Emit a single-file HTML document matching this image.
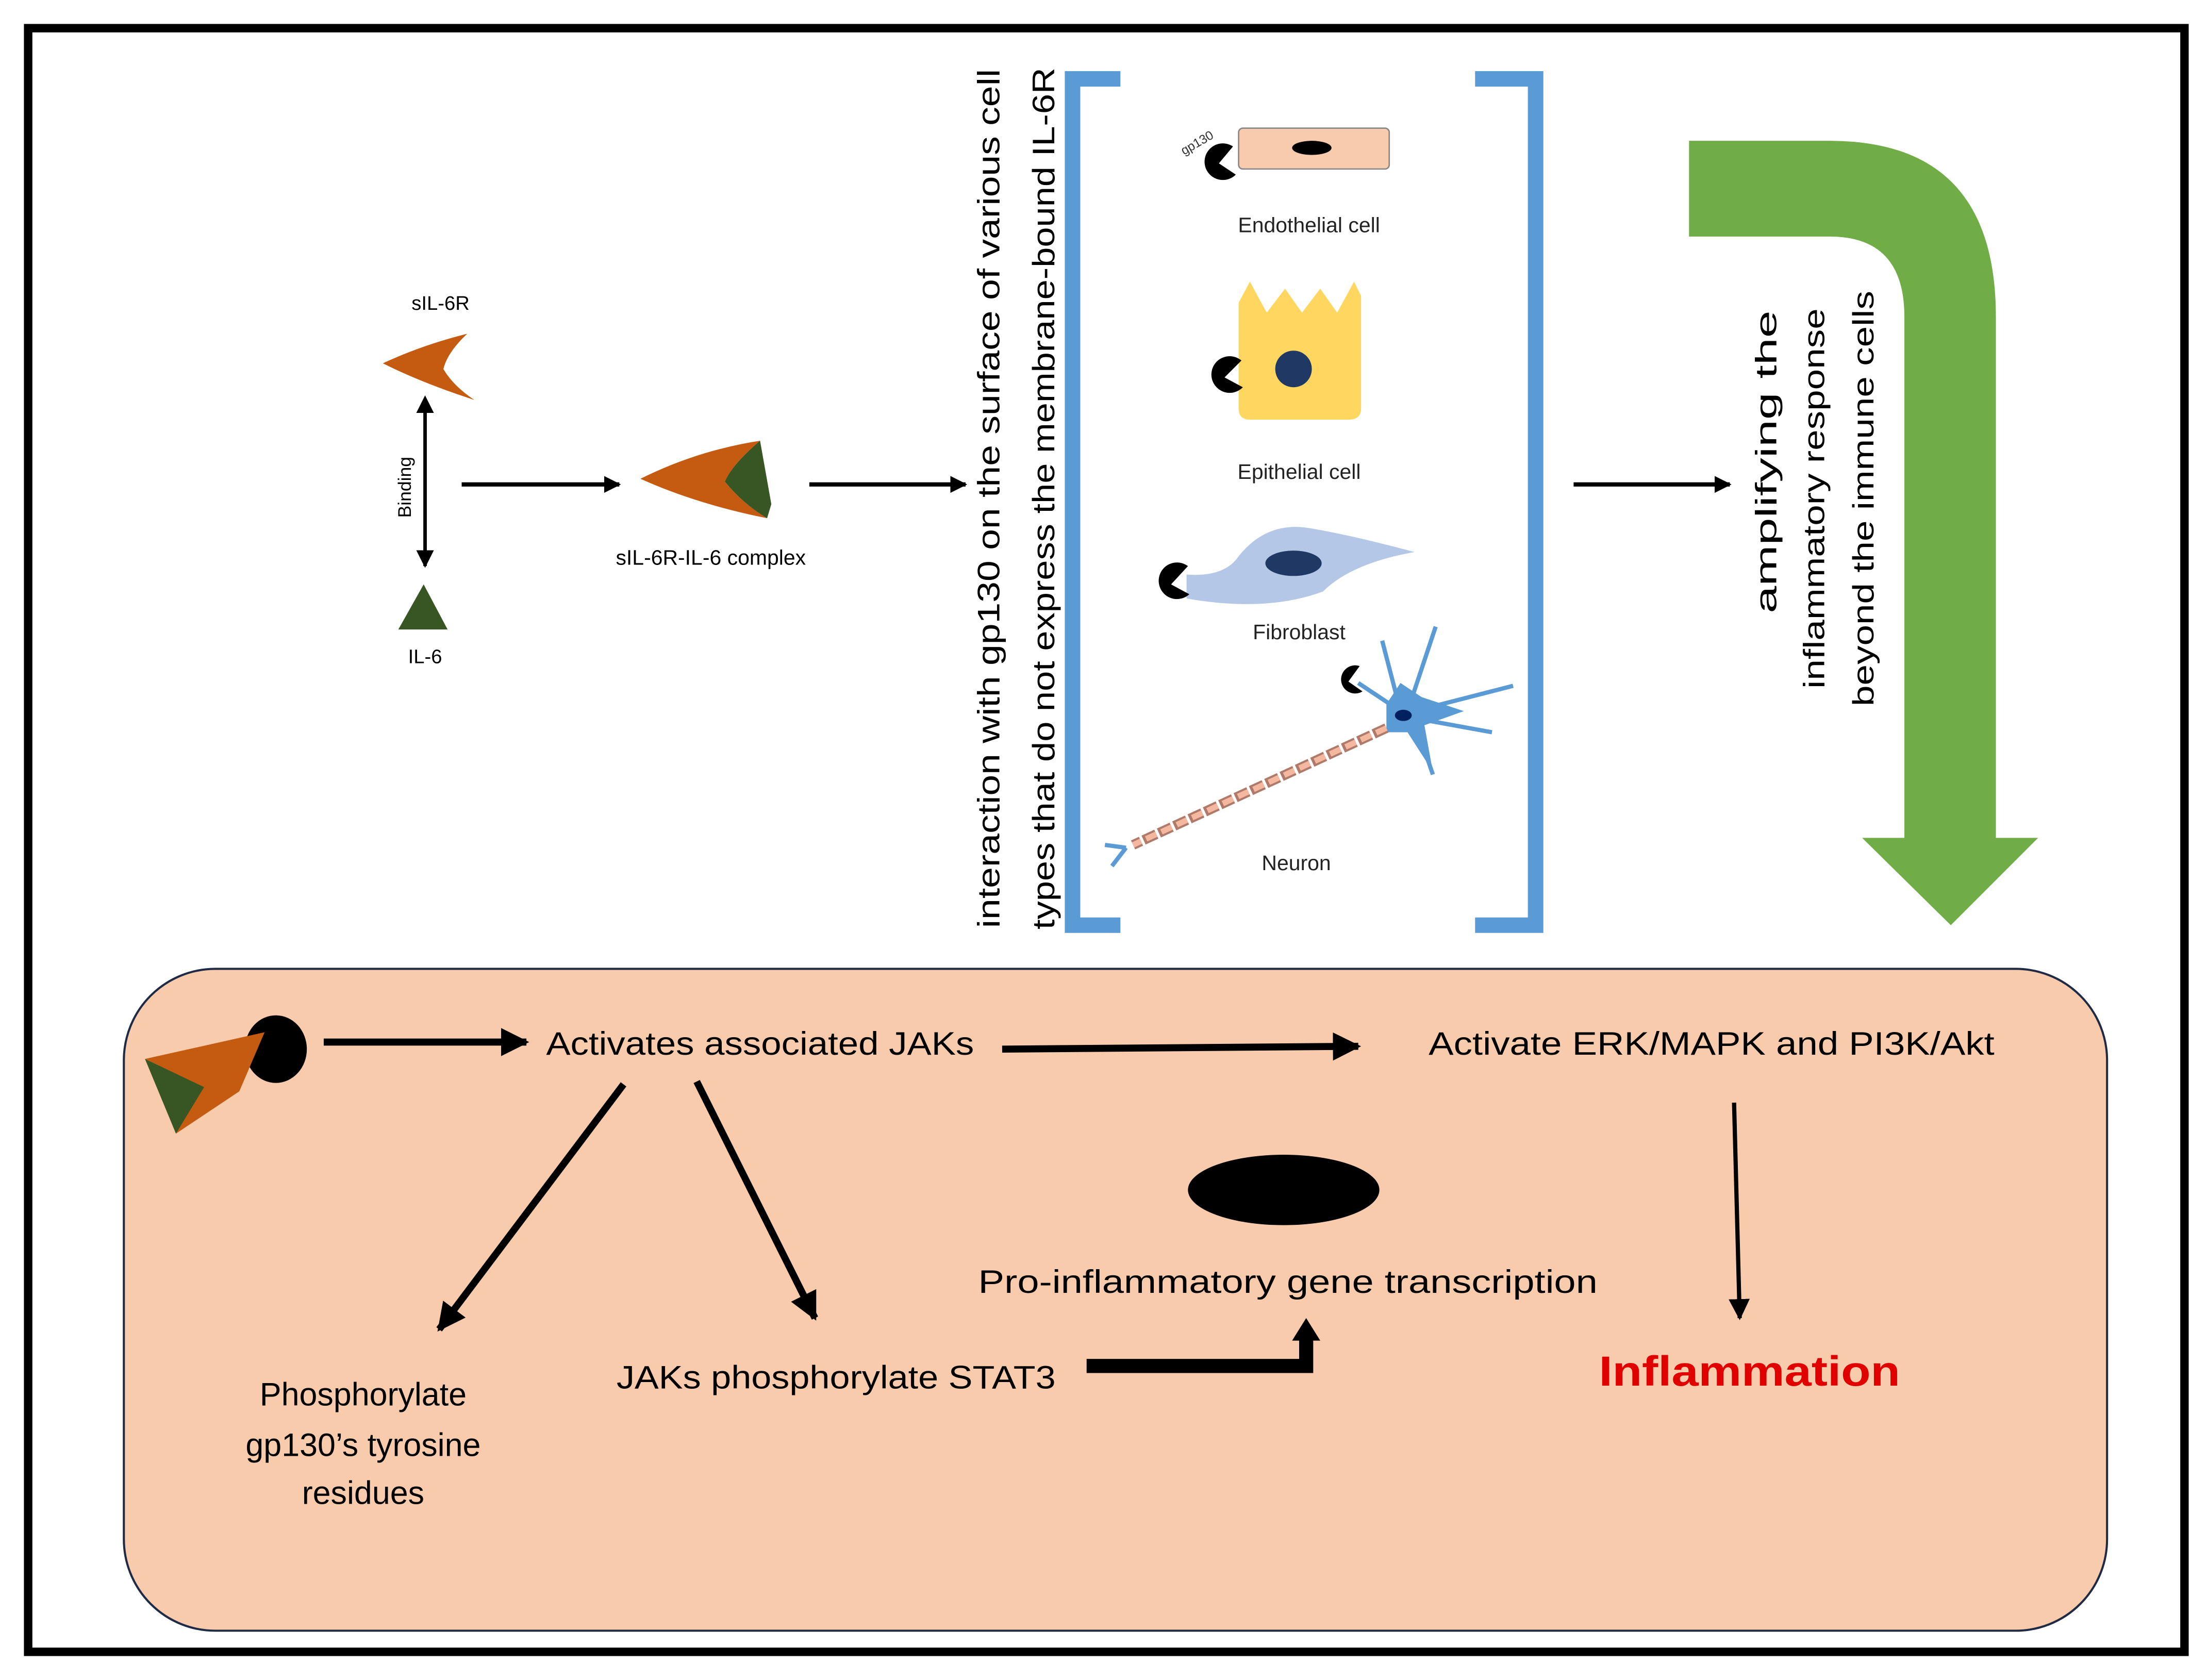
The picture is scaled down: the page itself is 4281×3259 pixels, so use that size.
<!DOCTYPE html>
<html><head><meta charset="utf-8"><style>
html,body{margin:0;padding:0;background:#fff;}
svg{display:block;}
text{font-family:"Liberation Sans",sans-serif;}
</style></head><body>
<svg width="4281" height="3259" viewBox="0 0 1568 1193" preserveAspectRatio="none" xmlns="http://www.w3.org/2000/svg">
<defs>
<marker id="ah" viewBox="0 0 10 10" refX="9" refY="5" markerWidth="4" markerHeight="4" orient="auto"><path d="M0,0 L10,5 L0,10 Z" fill="#000"/></marker>
<marker id="ah2" viewBox="0 0 10 10" refX="9" refY="5" markerWidth="5" markerHeight="5" orient="auto"><path d="M0,0 L10,5 L0,10 Z" fill="#000"/></marker>
<marker id="ahs" viewBox="0 0 10 10" refX="1" refY="5" markerWidth="5" markerHeight="5" orient="auto-start-reverse"><path d="M0,0 L10,5 L0,10 Z" fill="#000"/></marker>
</defs>
<rect x="0" y="0" width="1568" height="1193" fill="#fff"/>
<rect x="20" y="20" width="1532" height="1153" fill="#fff" stroke="#000" stroke-width="6"/>

<rect x="88" y="688" width="1409" height="470" rx="65" fill="#f8cbad" stroke="#1f2a44" stroke-width="1.5"/>

<path d="M796,56 L762,56 L762,657 L796,657" fill="none" stroke="#5b9bd5" stroke-width="11"/>
<path d="M1048,56 L1091,56 L1091,657 L1048,657" fill="none" stroke="#5b9bd5" stroke-width="11"/>

<path d="M1200,100 L1300,100 Q1418,100 1418,225 L1418,595 L1448,595 L1386,657 L1323,595 L1353,595 L1353,225 Q1353,168 1300,168 L1200,168 Z" fill="#70ad47"/>

<text transform="translate(710,354) rotate(-90)" text-anchor="middle" font-size="22" textLength="610" lengthAdjust="spacingAndGlyphs" fill="#000">interaction with gp130 on the surface of various cell</text>
<text transform="translate(749,354) rotate(-90)" text-anchor="middle" font-size="22" textLength="612" lengthAdjust="spacingAndGlyphs" fill="#000">types that do not express the membrane-bound IL-6R</text>
<text transform="translate(1262,328) rotate(-90)" text-anchor="middle" font-size="21" textLength="215" lengthAdjust="spacingAndGlyphs" fill="#000">amplifying the</text>
<text transform="translate(1296,354) rotate(-90)" text-anchor="middle" font-size="21" textLength="270" lengthAdjust="spacingAndGlyphs" fill="#000">inflammatory response</text>
<text transform="translate(1331,354) rotate(-90)" text-anchor="middle" font-size="21" textLength="295" lengthAdjust="spacingAndGlyphs" fill="#000">beyond the immune cells</text>

<text x="313" y="220" text-anchor="middle" font-size="14" fill="#000">sIL-6R</text>
<path d="M272,258 Q300,245 332,237 Q318,250 315,262 Q322,274 337,284 Q300,272 272,258 Z" fill="#c55a11"/>
<line x1="302" y1="292" x2="302" y2="402" stroke="#000" stroke-width="2.5" marker-start="url(#ahs)" marker-end="url(#ah2)"/>
<text transform="translate(292,346) rotate(-90)" text-anchor="middle" font-size="13" fill="#000">Binding</text>
<path d="M283,447 L301,415 L318,447 Z" fill="#375623"/>
<text x="302" y="471" text-anchor="middle" font-size="14" fill="#000">IL-6</text>
<line x1="328" y1="344" x2="440" y2="344" stroke="#000" stroke-width="3" marker-end="url(#ah)"/>
<path d="M455,340 Q495,320 540,313 Q520,330 515,342 Q528,358 545,368 Q495,358 455,340 Z" fill="#c55a11"/>
<path d="M540,313 L548,358 L545,368 Q528,358 515,342 Q520,330 540,313 Z" fill="#375623"/>
<text x="505" y="401" text-anchor="middle" font-size="15" fill="#000">sIL-6R-IL-6 complex</text>
<line x1="575" y1="344" x2="686" y2="344" stroke="#000" stroke-width="3" marker-end="url(#ah)"/>
<line x1="1118" y1="344" x2="1229" y2="344" stroke="#000" stroke-width="3" marker-end="url(#ah)"/>

<rect x="880" y="91" width="107" height="29" rx="3" fill="#f8cbad" stroke="#888" stroke-width="1"/>
<ellipse cx="932" cy="105" rx="14" ry="5" fill="#000"/>
<path d="M876,104 A13,13 0 1 0 878,124 L866,116 Z" fill="#000"/>
<text transform="translate(852,104) rotate(-30)" text-anchor="middle" font-size="9" fill="#333">gp130</text>
<text x="930" y="165" text-anchor="middle" font-size="15" fill="#222">Endothelial cell</text>
<path d="M880,215 L888,200 L900,222 L913,205 L925,222 L938,205 L950,222 L962,200 L967,210 L967,290 Q967,298 958,298 L888,298 Q880,298 880,290 Z" fill="#ffd34f" opacity="0.9"/>
<circle cx="919" cy="262" r="13" fill="#203864"/>
<path d="M882,256 A13,13 0 1 0 883,275 L870,268 Z" fill="#000"/>
<text x="923" y="340" text-anchor="middle" font-size="15" fill="#222">Epithelial cell</text>
<path d="M843,408 Q870,410 880,395 Q900,370 930,375 Q960,380 1005,392 Q960,400 940,420 Q900,435 843,425 Z" fill="#b4c7e7"/>
<ellipse cx="919" cy="400" rx="20" ry="9" fill="#203864"/>
<path d="M844,402 A13,13 0 1 0 845,422 L832,415 Z" fill="#000"/>
<text x="923" y="454" text-anchor="middle" font-size="15" fill="#222">Fibroblast</text>
<g stroke="#5b9bd5" stroke-width="3" fill="none">
<line x1="995" y1="505" x2="982" y2="455"/>
<line x1="1000" y1="505" x2="1020" y2="445"/>
<line x1="1005" y1="505" x2="1075" y2="487"/>
<line x1="1005" y1="510" x2="1060" y2="520"/>
<line x1="1005" y1="512" x2="1018" y2="550"/>
<line x1="995" y1="505" x2="965" y2="485"/>
<line x1="800" y1="602" x2="790" y2="615"/>
<line x1="800" y1="602" x2="785" y2="600"/>
</g>
<path d="M985,500 L995,485 L1010,495 L1040,505 L1012,515 L1018,548 L1000,520 L985,520 Z" fill="#5b9bd5"/>
<ellipse cx="997" cy="508" rx="6" ry="4" fill="#002060"/>
<line x1="985" y1="517" x2="805" y2="600" stroke="#b07a6a" stroke-width="7" stroke-dasharray="10,2"/>
<line x1="985" y1="517" x2="805" y2="600" stroke="#f4b8a0" stroke-width="4" stroke-dasharray="8,4"/>
<path d="M966,473 A10,10 0 1 0 968,491 L958,484 Z" fill="#000"/>
<text x="921" y="618" text-anchor="middle" font-size="15" fill="#222">Neuron</text>

<ellipse cx="196" cy="745" rx="22" ry="24" fill="#000"/>
<path d="M103,752 L188,733 L170,775 L125,805 L140,770 Z" fill="#c55a11"/>
<path d="M103,752 L145,772 L125,805 Z" fill="#375623"/>
<line x1="230" y1="740" x2="374" y2="740" stroke="#000" stroke-width="5" marker-end="url(#ah)"/>
<text x="388" y="749" font-size="23" fill="#000" textLength="304" lengthAdjust="spacingAndGlyphs">Activates associated JAKs</text>
<line x1="712" y1="745" x2="965" y2="743" stroke="#000" stroke-width="5" marker-end="url(#ah)"/>
<text x="1015" y="749" font-size="23" fill="#000" textLength="402" lengthAdjust="spacingAndGlyphs">Activate ERK/MAPK and PI3K/Akt</text>
<line x1="443" y1="770" x2="312" y2="944" stroke="#000" stroke-width="5" marker-end="url(#ah)"/>
<line x1="495" y1="768" x2="579" y2="936" stroke="#000" stroke-width="5" marker-end="url(#ah)"/>
<ellipse cx="912" cy="845" rx="68" ry="25" fill="#000"/>
<text x="915" y="918" text-anchor="middle" font-size="23" fill="#000" textLength="440" lengthAdjust="spacingAndGlyphs">Pro-inflammatory gene transcription</text>
<line x1="1232" y1="783" x2="1236" y2="936" stroke="#000" stroke-width="3" marker-end="url(#ah2)"/>
<text x="1243" y="984" text-anchor="middle" font-size="30" font-weight="bold" fill="#e00000" textLength="214" lengthAdjust="spacingAndGlyphs">Inflammation</text>
<text x="594" y="986" text-anchor="middle" font-size="23" fill="#000" textLength="312" lengthAdjust="spacingAndGlyphs">JAKs phosphorylate STAT3</text>
<path d="M772,970 L928,970 L928,950" fill="none" stroke="#000" stroke-width="10"/>
<path d="M918,952 L928,936 L938,952 Z" fill="#000"/>
<text x="258" y="998" text-anchor="middle" font-size="23" fill="#000">Phosphorylate</text>
<text x="258" y="1034" text-anchor="middle" font-size="23" fill="#000">gp130’s tyrosine</text>
<text x="258" y="1068" text-anchor="middle" font-size="23" fill="#000">residues</text>
</svg>
</body></html>
